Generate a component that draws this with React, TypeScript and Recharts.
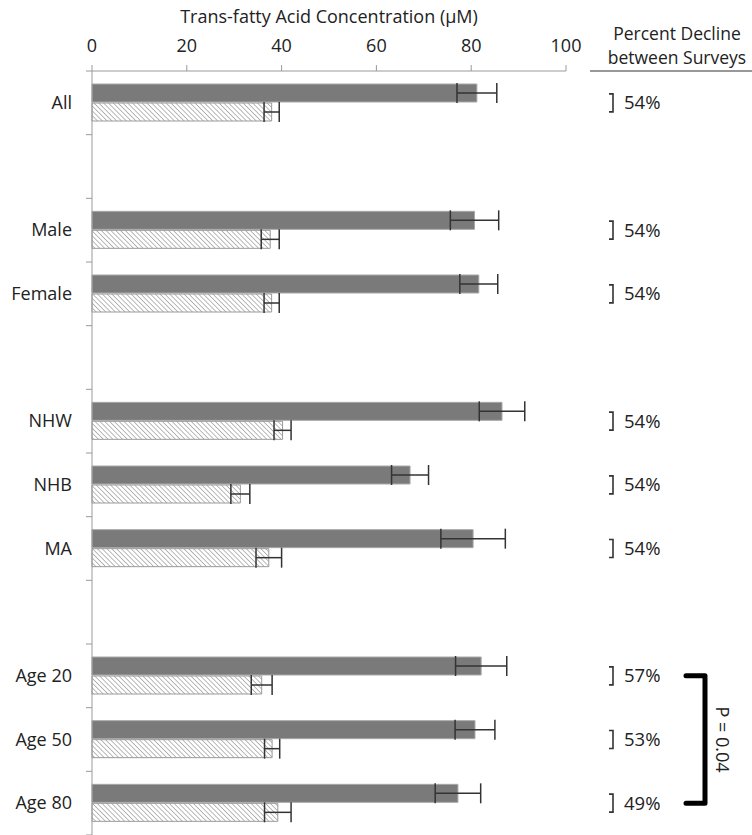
import { BarChart, Bar, XAxis, YAxis, ErrorBar, Label } from "recharts";

// groups down the left side; "" marks an empty spacer row
const groups = ["All", "", "Male", "Female", "", "NHW", "NHB", "MA", "", "Age 20", "Age 50", "Age 80"];
// first survey (solid grey) and second survey (hatched), µM
const survey1 = [81.2, null, 80.7, 81.6, null, 86.5, 67.1, 80.4, null, 82.1, 80.8, 77.2];
const survey1Err = [4.2, null, 5.1, 4.0, null, 4.8, 3.9, 6.8, null, 5.4, 4.2, 4.8];
const survey2 = [37.9, null, 37.6, 37.9, null, 40.2, 31.3, 37.3, null, 35.8, 38.0, 39.2];
const survey2Err = [1.6, null, 1.9, 1.6, null, 1.8, 2.0, 2.7, null, 2.2, 1.6, 2.8];
const decline = ["54%", "", "54%", "54%", "", "54%", "54%", "54%", "", "57%", "53%", "49%"];
const xTicks = [0, 20, 40, 60, 80, 100];
const pBracket = { from: "Age 20", to: "Age 80", label: "P = 0.04" };

const W = 752;
const H = 835;
const AXIS_H = 71;
const BAND = (H - AXIS_H) / groups.length;
const TEXT = "#222";
const AXIS = "#9a9a9a";

const data = groups.map((g, i) => ({
  id: String(i),
  first: survey1[i],
  firstErr: survey1Err[i],
  second: survey2[i],
  secondErr: survey2Err[i],
}));

function GroupTick({ x, y, payload, index }: any) {
  const i = Number(payload.value);
  // tick marks sit on the band boundaries, not the band centres
  return (
    <g>
      {index === 0 && (
        <line x1={x + 14} x2={x + 20} y1={y - BAND / 2} y2={y - BAND / 2} stroke={AXIS} />
      )}
      <line x1={x + 14} x2={x + 20} y1={y + BAND / 2} y2={y + BAND / 2} stroke={AXIS} />
      <text x={x} y={y} dy="0.35em" textAnchor="end" fill={TEXT} fontSize={18}>
        {groups[i]}
      </text>
    </g>
  );
}

function DeclineTick({ x, y, payload }: any) {
  const i = Number(payload.value);
  const pct = decline[i];
  const from = groups.indexOf(pBracket.from);
  const to = groups.indexOf(pBracket.to);
  const span = (to - from) * BAND;
  return (
    <g>
      {pct && (
        <>
          <path
            d={`M${x + 43},${y - 9} H${x + 47} V${y + 9} H${x + 43}`}
            fill="none"
            stroke="#333"
            strokeWidth={1.6}
          />
          <text x={x + 58} y={y} dy="0.35em" fill={TEXT} fontSize={18.5}>
            {pct}
          </text>
        </>
      )}
      {i === from && (
        <>
          <path
            d={`M${x + 120},${y} H${x + 139} V${y + span} H${x + 120}`}
            fill="none"
            stroke="#000"
            strokeWidth={5}
            strokeLinejoin="round"
            strokeLinecap="round"
          />
          <text
            x={x + 156}
            y={y + span / 2}
            textAnchor="middle"
            dy="0.35em"
            fill={TEXT}
            fontSize={18}
            transform={`rotate(90 ${x + 156} ${y + span / 2})`}
          >
            {pBracket.label}
          </text>
        </>
      )}
    </g>
  );
}

export default function App() {
  return (
    <div style={{ position: "absolute", left: 0, top: 0, width: W, height: H, fontFamily: "'Open Sans', sans-serif", background: "#fff" }}>
      <style>{"body{margin:0}"}</style>
      <BarChart
        width={W}
        height={H}
        data={data}
        layout="vertical"
        margin={{ top: 0, right: 0, bottom: 0, left: 0 }}
        barSize={18}
        barGap={1}
      >
        <defs>
          <pattern id="hatch" patternUnits="userSpaceOnUse" width={3.4} height={3.4} patternTransform="rotate(-45)">
            <rect width={3.4} height={3.4} fill="#fff" />
            <line x1={0} y1={0} x2={0} y2={3.4} stroke="#808080" strokeWidth={1.1} />
          </pattern>
        </defs>
        <XAxis
          type="number"
          orientation="top"
          domain={[0, 100]}
          ticks={xTicks}
          height={AXIS_H}
          axisLine={{ stroke: AXIS }}
          tickLine={{ stroke: AXIS }}
          tickSize={6}
          tickMargin={13}
          tick={{ fill: TEXT, fontSize: 18 }}
        >
          <Label value="Trans-fatty Acid Concentration (μM)" position="insideTop" offset={10} fill={TEXT} fontSize={18} />
        </XAxis>
        <YAxis
          yAxisId="left"
          type="category"
          dataKey="id"
          width={92}
          interval={0}
          axisLine={{ stroke: AXIS }}
          tickLine={false}
          tickSize={6}
          tickMargin={14}
          tick={<GroupTick />}
        />
        <YAxis
          yAxisId="right"
          orientation="right"
          type="category"
          dataKey="id"
          width={186}
          interval={0}
          axisLine={false}
          tickLine={false}
          tickSize={0}
          tickMargin={0}
          tick={<DeclineTick />}
        />
        <Bar yAxisId="left" dataKey="first" fill="#7a7a7a" stroke="#a8a8a8" strokeWidth={1} isAnimationActive={false}>
          <ErrorBar dataKey="firstErr" direction="x" width={10} stroke="#333" strokeWidth={1.5} />
        </Bar>
        <Bar yAxisId="left" dataKey="second" fill="url(#hatch)" stroke="#9a9a9a" strokeWidth={1} isAnimationActive={false}>
          <ErrorBar dataKey="secondErr" direction="x" width={10} stroke="#333" strokeWidth={1.5} />
        </Bar>
        <text x={677} y={40} textAnchor="middle" fill={TEXT} fontSize={17.5}>
          Percent Decline
        </text>
        <text x={677} y={64} textAnchor="middle" fill={TEXT} fontSize={17.5}>
          between Surveys
        </text>
        <line x1={590} x2={752} y1={71} y2={71} stroke="#333" strokeWidth={1} />
      </BarChart>
    </div>
  );
}
